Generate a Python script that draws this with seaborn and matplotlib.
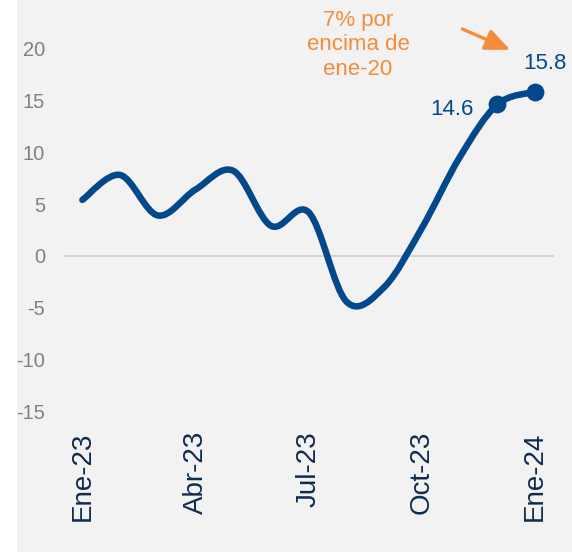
import numpy as np
import pandas as pd
import matplotlib
matplotlib.use("Agg")
import matplotlib.pyplot as plt
import seaborn as sns
from matplotlib.path import Path
from matplotlib.patches import PathPatch, Rectangle

# ---- data ----
months = ["Ene-23", "Feb-23", "Mar-23", "Abr-23", "May-23", "Jun-23", "Jul-23",
          "Ago-23", "Sep-23", "Oct-23", "Nov-23", "Dic-23", "Ene-24"]
values = [5.4, 7.8, 3.9, 6.4, 8.2, 2.9, 4.2, -4.4, -3.0, 2.7, 9.5, 14.6, 15.8]
tick_labels = ["Ene-23", "Abr-23", "Jul-23", "Oct-23", "Ene-24"]
yticks = [-15, -10, -5, 0, 5, 10, 15, 20]
highlight_months = ["Dic-23", "Ene-24"]
annotation_text = "7% por\nencima de\nene-20"

navy = "#03488a"
orange = "#f58c3c"
label_navy = "#112b4e"
grey_txt = "#808080"

sns.set_theme(style="white")
plt.rcParams['font.family'] = ['Liberation Sans', 'DejaVu Sans']

df = pd.DataFrame({"mes": months, "valor": values})
df["pos"] = np.arange(len(df))

W, H = 572, 552
fig = plt.figure(figsize=(W / 100, H / 100), dpi=100, facecolor="white")
fig.patches.append(Rectangle((17 / W, 0), 1 - 17 / W, 1, transform=fig.transFigure,
                             facecolor="#f2f2f2", edgecolor="none", zorder=-1))
ax = fig.add_axes([63.5 / W, 1 - 411.7 / H, (554 - 63.5) / W, (411.7 - 48.3) / H])
ax.set_facecolor("none")

# zero line
ax.axhline(0, color="#d0d0d0", lw=1.2, zorder=1)

# smoothed line (Catmull-Rom style bezier through the data points)
x = df["pos"].to_numpy(float)
y = df["valor"].to_numpy(float)
n = len(x)
verts = [(x[0], y[0])]
codes = [Path.MOVETO]
for i in range(n - 1):
    p0 = i - 1 if i > 0 else i
    p3 = i + 2 if i + 2 < n else i + 1
    c1 = (x[i] + (x[i + 1] - x[p0]) / 6, y[i] + (y[i + 1] - y[p0]) / 6)
    c2 = (x[i + 1] - (x[p3] - x[i]) / 6, y[i + 1] - (y[p3] - y[i]) / 6)
    verts += [c1, c2, (x[i + 1], y[i + 1])]
    codes += [Path.CURVE4] * 3
ax.add_patch(PathPatch(Path(verts, codes), facecolor="none", edgecolor=navy,
                       lw=4.7, capstyle="round", joinstyle="round", zorder=3))

hl = df[df["mes"].isin(highlight_months)]
sns.scatterplot(data=hl, x="pos", y="valor", s=165, color=navy, edgecolor=navy,
                linewidth=0, zorder=4, ax=ax, legend=False)

# value labels
offsets = {"Dic-23": (-33, -3.9), "Ene-24": (7.2, 20.7)}
for _, r in hl.iterrows():
    ax.annotate(f"{r['valor']:.1f}", xy=(r["pos"], r["valor"]), xytext=offsets[r["mes"]],
                textcoords="offset points", ha="center", va="center",
                fontsize=16, color=navy, annotation_clip=False)

# orange note + arrow
fig.text(358 / W, 1 - 45 / H, annotation_text, ha="center", va="center",
         fontsize=16, color=orange, linespacing=1.2)
ax.annotate("", xy=(11.34, 19.85), xytext=(10.07, 21.86),
            arrowprops=dict(arrowstyle="-|>,head_length=1.5,head_width=0.65",
                            mutation_scale=10, color=orange, lw=2.4,
                            shrinkA=0, shrinkB=0),
            annotation_clip=False)

ax.set_xlim(-0.5, n - 0.5)
ax.set_ylim(-15, 20)
ax.set_yticks(yticks)
ax.set_yticklabels([str(v) for v in yticks])
ax.set_xticks([months.index(t) for t in tick_labels])
ax.set_xticklabels(tick_labels, rotation=90)
ax.set_xlabel("")
ax.set_ylabel("")
ax.tick_params(axis="y", length=0, pad=13.3, labelsize=14.5, labelcolor=grey_txt)
ax.tick_params(axis="x", length=0, pad=14, labelsize=20, labelcolor=label_navy)
sns.despine(ax=ax, left=True, bottom=True)
ax.grid(False)

fig.savefig("out.png", dpi=100, facecolor=fig.get_facecolor())
